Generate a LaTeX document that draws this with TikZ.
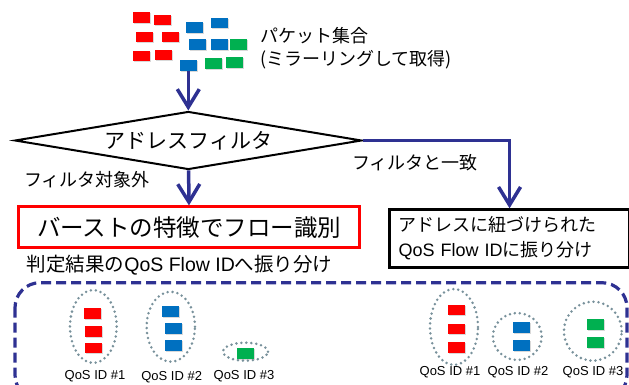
\documentclass[tikz,border=0pt]{standalone}
\usepackage{fontspec}
\setmainfont{Liberation Sans}
\newfontfamily\jp{Noto Sans CJK JP}
\usetikzlibrary{shapes.geometric,arrows.meta,shadows}

\definecolor{navy}{RGB}{46,49,146}
\definecolor{dotgray}{RGB}{120,145,155}
\definecolor{pktred}{RGB}{255,0,0}
\definecolor{pktblue}{RGB}{0,112,192}
\definecolor{pktgreen}{RGB}{0,176,80}

\begin{document}
\begin{tikzpicture}[x=1pt, y=-1pt,
    every node/.style={inner sep=0pt, font={\jp\fontsize{18}{23}\selectfont}},
    pkt/.style={rectangle, minimum width=17pt, minimum height=10.5pt, inner sep=0pt,
      drop shadow={shadow xshift=1pt, shadow yshift=-1pt, opacity=0.3}},
    redpkt/.style={pkt, fill=pktred},
    bluepkt/.style={pkt, fill=pktblue},
    greenpkt/.style={pkt, fill=pktgreen},
    decision/.style={diamond, draw=black, line width=2pt, shape aspect=6,
      minimum width=347pt, minimum height=58pt, font={\jp\fontsize{21}{25}\selectfont}},
    redbox/.style={rectangle, draw=pktred, line width=2.5pt, minimum width=341pt,
      minimum height=41pt, font={\jp\fontsize{23.5}{28}\selectfont}},
    blackbox/.style={rectangle, draw=black, line width=2.5pt, align=left, text width=222pt,
      inner xsep=9pt, minimum height=58pt, font={\jp\fontsize{18}{25}\selectfont}},
    flow/.style={navy, line width=3.5pt, -{Straight Barb[length=18pt, width=22pt]}},
    zone/.style={navy, line width=3.2pt, dash pattern=on 10pt off 5pt, rounded corners=25pt},
    grp/.style={ellipse, draw=dotgray, line width=2.8pt, dash pattern=on 0pt off 5pt,
      line cap=round},
    qos/.style={font={\rmfamily\fontsize{13}{15}\selectfont}}
  ]
  \useasboundingbox (0,0) rectangle (629,385);
  \clip (0,0) rectangle (629,385);

  % incoming packets
  \foreach \x/\y [count=\i] in {141.3/17.7, 162.5/20, 144.2/36.8, 170/37.2, 141.3/56, 163.3/55}
    \node[redpkt] (r\i) at (\x,\y) {};
  \foreach \x/\y [count=\i] in {194.5/27.5, 219.2/22.8, 197.7/44.5, 219/44.5, 188.3/65.3}
    \node[bluepkt] (b\i) at (\x,\y) {};
  \foreach \x/\y [count=\i] in {238.7/44.5, 213.8/63.7, 234.3/62.5}
    \node[greenpkt] (g\i) at (\x,\y) {};
  \node[anchor=west, align=left] (pkttext) at (260,48.5) {パケット集合\\(ミラーリングして取得)};

  % filter and the two branches
  \node[decision] (filter) at (188.3,140.5) {アドレスフィルタ};
  \node[redbox] (burst) at (189.2,227.2) {バーストの特徴でフロー識別};
  \node[blackbox, anchor=north west] (addr) at (388.3,208.3)
    {アドレスに紐づけられた\\{\rmfamily QoS Flow ID}に振り分け};

  \draw[flow] (b5) -- (filter);
  \draw[flow] (filter) -- (burst);
  \draw[flow] (filter.east) -| (addr.north);

  \node[anchor=east] (outlbl) at (150,180) {フィルタ対象外};
  \node (matchlbl) at (415,163) {フィルタと一致};
  \node[anchor=west, font={\jp\fontsize{19.5}{23}\selectfont}] (assignlbl) at (26.7,265)
    {判定結果の{\rmfamily QoS Flow ID}へ振り分け};

  % QoS flows
  \draw[zone] (15,282.7) rectangle (627,400);

  \node[grp, minimum width=46.7pt, minimum height=73pt] (grp1) at (93.3,326.5) {};
  \node[grp, minimum width=48.3pt, minimum height=70pt] (grp2) at (170.8,326.7) {};
  \node[grp, minimum width=45pt, minimum height=18pt] (grp3) at (245.5,351.7) {};
  \node[grp, minimum width=48pt, minimum height=76pt] (grp4) at (454,327) {};
  \node[grp, minimum width=48.7pt, minimum height=47pt] (grp5) at (517.3,336.5) {};
  \node[grp, minimum width=57.7pt, minimum height=59pt] (grp6) at (592.8,331.2) {};

  \foreach \x/\y [count=\i] in {92.3/313.7, 93.3/331.3, 93.3/348, 456.2/310, 456.2/329.2, 456.2/347.7}
    \node[redpkt] (qr\i) at (\x,\y) {};
  \foreach \x/\y [count=\i] in {170.7/311.3, 173.2/328.7, 173.7/345.3, 521.7/327.5, 521.7/345.3}
    \node[bluepkt] (qb\i) at (\x,\y) {};
  \foreach \x/\y [count=\i] in {245.7/353.7, 595.7/324.3, 595.7/342.5}
    \node[greenpkt] (qg\i) at (\x,\y) {};

  \node[qos] (id1) at (95,376) {QoS ID \#1};
  \node[qos] (id2) at (171.7,377.3) {QoS ID \#2};
  \node[qos] (id3) at (244,376) {QoS ID \#3};
  \node[qos] (id4) at (450,371.7) {QoS ID \#1};
  \node[qos] (id5) at (518,371.7) {QoS ID \#2};
  \node[qos] (id6) at (593,371.7) {QoS ID \#3};
\end{tikzpicture}
\end{document}
